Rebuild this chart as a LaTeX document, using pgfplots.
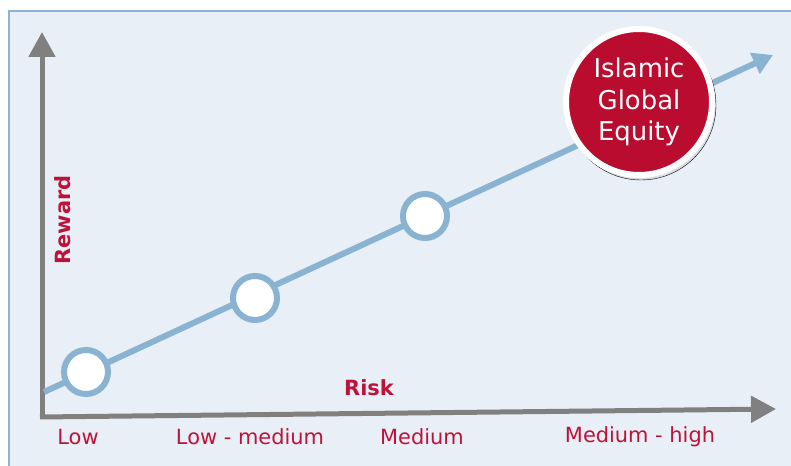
\documentclass[border=0pt]{standalone}
\usepackage{pgfplots}
\pgfplotsset{compat=1.18}
\usepackage{fontspec}
\setmainfont{DejaVu Sans}
\usetikzlibrary{arrows.meta}

\definecolor{panel}{HTML}{E8EFF6}
\definecolor{panelborder}{HTML}{8DB3D2}
\definecolor{trend}{HTML}{8AB3D1}
\definecolor{redlab}{HTML}{BE1238}
\definecolor{redfill}{HTML}{BA0C2F}
\definecolor{axgray}{HTML}{808080}

\begin{document}
\begin{tikzpicture}
\begin{axis}[
    scale only axis,
    width=791bp, height=466bp,
    xmin=0, xmax=791, ymin=0, ymax=466,
    axis lines=none,
    clip=false,
]
% background panel
\fill[white] (axis cs:0,0) rectangle (axis cs:791,466);
\filldraw[fill=panel, draw=panelborder, line width=2.5bp]
    (axis cs:9,-10) rectangle (axis cs:805,455);

% axes
\draw[axgray, line width=5bp, -{Triangle[width=26bp,length=25bp]}]
    (axis cs:42,47) -- (axis cs:42,434);
\draw[axgray, line width=5bp, -{Triangle[width=26bp,length=25bp]}]
    (axis cs:40,49) -- (axis cs:776,57);

% trend line
\addplot[trend, line width=6bp, -{Triangle[width=22bp,length=20bp]}]
    coordinates {(44,74) (773,411)};

% shadow of the big marker
\addplot[only marks, mark=*, mark size=75bp, draw=none,
    mark options={fill=black, fill opacity=0.07, draw=none}]
    coordinates {(641,361)};

% risk levels
\addplot[only marks, mark=*, mark size=22bp,
    mark options={fill=white, draw=trend, line width=6bp}]
    coordinates {(86,94) (255,168) (425,250)};

% Islamic Global Equity
\addplot[only marks, mark=*, mark size=73bp,
    mark options={fill=redfill, draw=white, line width=6bp}]
    coordinates {(639,364)};

% labels
\begin{scope}[redlab, font=\fontsize{21}{24}\selectfont]
\node at (axis cs:78,29) {Low};
\node at (axis cs:250,29) {Low - medium};
\node at (axis cs:422,29) {Medium};
\node at (axis cs:640,29) {Medium - high};
\node[font=\fontsize{21}{24}\selectfont\bfseries] at (axis cs:369,78) {Risk};
\node[font=\fontsize{21}{24}\selectfont\bfseries, rotate=90] at (axis cs:63,246) {Reward};
\end{scope}

\coordinate (ige) at (axis cs:639,364);
\coordinate (ll) at (axis cs:0,0);
\coordinate (ur) at (axis cs:791,466);
\end{axis}
\node[white, align=center, font=\fontsize{26}{31.5}\selectfont] at (ige)
    {Islamic\\Global\\Equity};
\pgfresetboundingbox
\useasboundingbox (ll) rectangle (ur);
\end{tikzpicture}
\end{document}
